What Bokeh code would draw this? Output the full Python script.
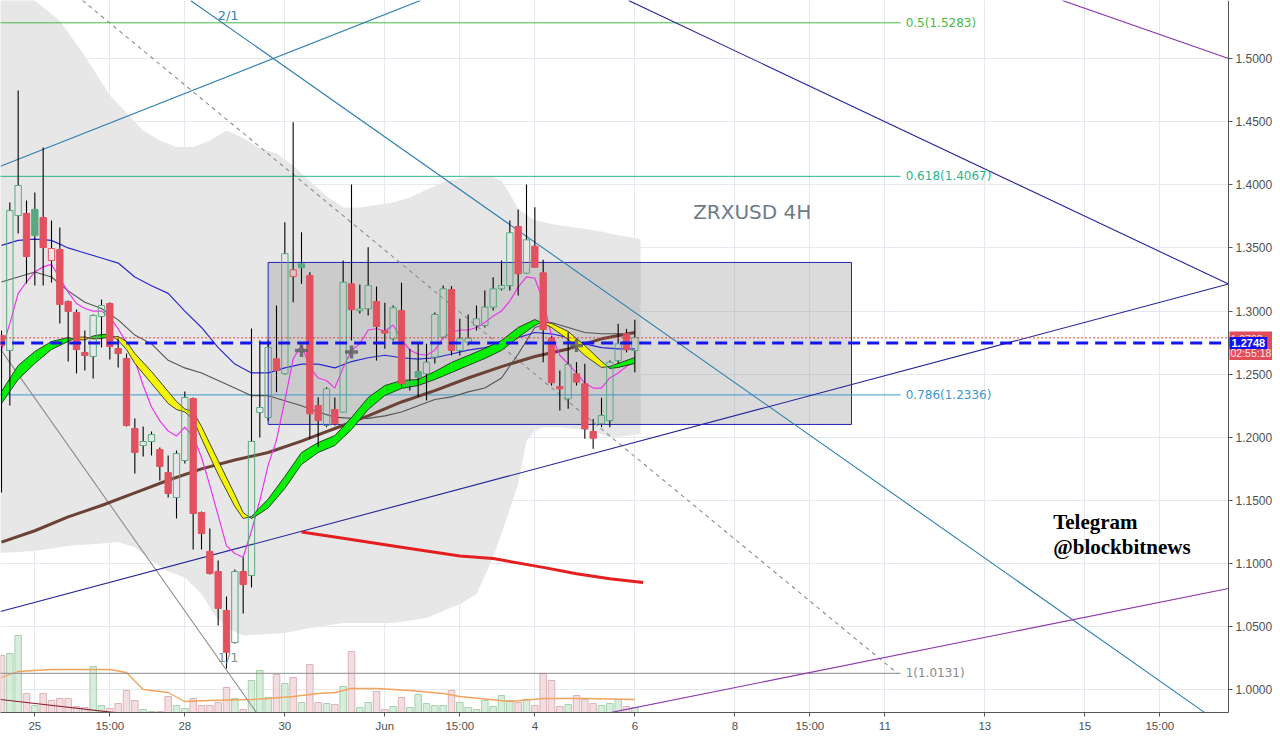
import numpy as np
from bokeh.plotting import figure
from bokeh.models import Range1d, FixedTicker, Label, NumeralTickFormatter
from bokeh.embed import file_html
from bokeh.resources import INLINE
from bokeh.core.properties import value

# ---------------- data (4H candles, bar index k) ----------------
bar = list(range(77))
open_ = [1.2806,1.2688,1.3757,1.3773,1.3805,1.3741,1.3400,1.3488,1.3076,1.2989,
         1.2672,1.2640,1.2957,1.3060,1.2703,1.2624,1.2070,1.1935,1.1967,1.1903,
         1.1721,1.1523,1.1816,1.2307,1.1404,1.1096,1.0937,1.0629,1.0375,1.0937,
         1.0906,1.2197,1.2157,1.2622,1.2503,1.3274,1.3374,1.3282,1.2252,1.2094,
         1.2220,1.2199,1.3216,1.3004,1.3018,1.3076,1.2846,1.2780,1.3004,1.2410,
         1.2521,1.2503,1.2635,1.2793,1.3171,1.2688,1.2753,1.2886,1.2886,1.3031,
         1.3176,1.3202,1.3670,1.3300,1.3514,1.3303,1.2785,1.2402,1.2305,1.2503,
         1.2424,1.2046,1.2107,1.2133,1.2608,1.2820,1.2688]
high = [1.2846,1.3860,1.4747,1.3876,1.3939,1.4295,1.3717,1.3662,1.3084,1.3012,
        1.2846,1.2973,1.3092,1.3068,1.2783,1.2664,1.2149,1.2086,1.2046,1.1919,
        1.1856,1.1896,1.2363,1.2315,1.1412,1.1278,1.1024,1.0740,1.0953,1.1048,
        1.2862,1.2767,1.2767,1.3044,1.3704,1.4496,1.3625,1.3308,1.2318,1.2397,
        1.2315,1.3400,1.4002,1.3210,1.3506,1.3194,1.3065,1.3044,1.3224,1.2701,
        1.2741,1.2741,1.2989,1.3202,1.3197,1.2939,1.2973,1.3044,1.3163,1.3268,
        1.3400,1.3717,1.3805,1.4002,1.3823,1.3406,1.2799,1.2529,1.2833,1.2595,
        1.2582,1.2146,1.2313,1.2608,1.2899,1.2859,1.2931]
low = [1.1563,1.2252,1.3614,1.3218,1.3202,1.3202,1.3226,1.2902,1.2601,1.2505,
       1.2529,1.2466,1.2711,1.2616,1.2553,1.2085,1.1713,1.1848,1.1856,1.1658,
       1.1523,1.1357,1.1793,1.1112,1.1112,1.0914,1.0509,1.0169,1.0368,1.0605,
       1.0811,1.1999,1.2133,1.2357,1.2498,1.3070,1.3216,1.1988,1.1922,1.2080,
       1.2094,1.2197,1.2767,1.2981,1.2965,1.2608,1.2701,1.2767,1.2397,1.2371,
       1.2318,1.2292,1.2585,1.2783,1.2648,1.2648,1.2727,1.2846,1.2870,1.3004,
       1.3163,1.3163,1.3123,1.3295,1.3345,1.2595,1.2410,1.2212,1.2226,1.2410,
       1.1988,1.1909,1.2080,1.2080,1.2582,1.2672,1.2516]
close = [1.2727,1.3796,1.3994,1.3432,1.3598,1.3503,1.3495,1.3052,1.2997,1.2695,
         1.2648,1.2965,1.3044,1.2719,1.2664,1.2093,1.1880,1.1967,1.2022,1.1769,
         1.1555,1.1871,1.2315,1.1397,1.1238,1.0922,1.0645,1.0297,1.0937,1.0834,
         1.1967,1.2236,1.2711,1.2529,1.3454,1.3327,1.3343,1.2186,1.2133,1.2384,
         1.2107,1.3229,1.3010,1.3018,1.3202,1.2878,1.2825,1.3026,1.2424,1.2444,
         1.2476,1.2595,1.2973,1.3176,1.2688,1.2780,1.2785,1.2939,1.3031,1.3176,
         1.3202,1.3620,1.3295,1.3564,1.3347,1.2854,1.2432,1.2384,1.2577,1.2437,
         1.2067,1.1993,1.2173,1.2595,1.2741,1.2693,1.2791]
volume = [285,295,385,95,35,95,60,70,70,30,25,230,35,20,45,110,60,15,5,5,
          80,35,20,70,35,35,50,125,70,15,160,210,75,190,145,175,50,240,50,45,
          40,130,305,25,50,105,15,30,75,25,90,45,35,35,110,50,25,15,60,30,
          85,60,50,65,35,195,160,30,40,85,65,45,35,45,65,30,25]

# moving averages
ma_fast = [1.269,1.290,1.314,1.323,1.331,1.335,1.337,1.326,1.315,1.306,
           1.302,1.300,1.300,1.295,1.286,1.275,1.261,1.241,1.224,1.213,
           1.205,1.201,1.208,1.201,1.184,1.162,1.138,1.114,1.108,1.105,
           1.126,1.150,1.178,1.198,1.229,1.262,1.273,1.255,1.247,1.245,
           1.239,1.255,1.269,1.274,1.285,1.286,1.284,1.289,1.278,1.269,
           1.266,1.265,1.269,1.279,1.283,1.285,1.285,1.287,1.291,1.296,
           1.300,1.308,1.319,1.327,1.326,1.308,1.281,1.265,1.258,1.251,
           1.243,1.239,1.239,1.247,1.251,1.256,1.261]
ma_mid_k = list(range(0, 77, 2))
ma_blue = [1.352,1.356,1.357,1.356,1.350,1.346,1.342,1.338,1.327,1.320,1.314,1.300,1.287,
           1.271,1.258,1.251,1.251,1.255,1.258,1.258,1.255,1.260,1.263,1.265,1.263,1.262,
           1.263,1.266,1.269,1.271,1.274,1.279,1.283,1.282,1.279,1.274,1.271,1.270,1.270]
ma_gray = [1.323,1.327,1.331,1.327,1.316,1.307,1.302,1.293,1.281,1.274,1.261,1.255,1.251,
           1.245,1.239,1.233,1.233,1.229,1.225,1.220,1.216,1.215,1.215,1.217,1.220,1.225,
           1.230,1.232,1.236,1.239,1.247,1.266,1.287,1.291,1.287,1.283,1.282,1.282,1.282]
ma_brown_k = list(range(0, 77, 4))
ma_brown = [1.117,1.126,1.137,1.146,1.156,1.166,1.175,1.182,1.188,1.197,
            1.207,1.217,1.228,1.237,1.247,1.256,1.264,1.270,1.278,1.283]
ma_red_k = [36,40,48,55,59,65,69,73,77]
ma_red = [1.125,1.121,1.113,1.106,1.104,1.097,1.092,1.088,1.085]

# ribbon (fast / slow)
rib_k = [0,2,4,6,8,9,10,11,12,13,14,15,16,18,20,21,22,23,24,26,28,29,30,31,32,34,36,38,
         40,42,44,46,48,50,52,54,56,58,60,62,64,65,66,68,70,72,73,74,76]
rib_fast = [1.2363,1.2569,1.2680,1.2759,1.2791,1.2775,1.2771,1.2803,1.2814,1.2818,
            1.2767,1.2696,1.2585,1.2426,1.2268,1.2220,1.2201,1.2141,1.1990,1.1706,
            1.1452,1.1357,1.1373,1.1444,1.1511,1.1690,1.1880,1.1959,1.2014,1.2157,
            1.2315,1.2410,1.2450,1.2458,1.2521,1.2593,1.2648,1.2704,1.2767,1.2870,
            1.2933,1.2902,1.2870,1.2775,1.2648,1.2553,1.2561,1.2585,1.2632]
rib_slow = [1.2268,1.2458,1.2585,1.2696,1.2759,1.2791,1.2795,1.2779,1.2783,1.2795,
            1.2798,1.2759,1.2664,1.2521,1.2363,1.2284,1.2224,1.2205,1.2086,1.1816,
            1.1547,1.1404,1.1357,1.1397,1.1440,1.1595,1.1785,1.1880,1.1935,1.2062,
            1.2220,1.2331,1.2387,1.2410,1.2458,1.2513,1.2569,1.2624,1.2688,1.2791,
            1.2886,1.2917,1.2902,1.2838,1.2727,1.2601,1.2545,1.2553,1.2585]

# shaded cloud band
cloud_up_k = [-1,4,7,10,13,15,17,19,21,23,25,27,29,31,33,35,37,39,41,43,45,47,49,51,53,
              55,57,59,60,61,62,63,64,66,68,70,72,74,76.7]
cloud_up = [1.56,1.546,1.530,1.502,1.471,1.457,1.443,1.435,1.430,1.430,1.435,1.443,1.437,
            1.429,1.425,1.415,1.403,1.391,1.382,1.382,1.384,1.386,1.390,1.396,1.402,1.405,
            1.407,1.406,1.403,1.393,1.381,1.376,1.372,1.369,1.367,1.365,1.363,1.360,1.357]
cloud_lo_k = [-1,4,8,12,14,16,18,20,22,24,25.5,27,29,34,37,41,47,51,55,57,59,60.7,62,63,
              64,65,67,71,73,75,76.7]
cloud_lo = [1.108,1.110,1.114,1.116,1.117,1.113,1.102,1.094,1.089,1.076,1.060,1.049,1.043,
            1.045,1.049,1.053,1.053,1.057,1.068,1.076,1.105,1.137,1.163,1.197,1.205,1.208,
            1.208,1.205,1.200,1.201,1.203]

vol_ma_k = [0,2,6,8,13,15,17,20,22,25,30,32,35,38,40,42,45,49,53,55,61,65,70,76]
vol_ma = [175,205,215,215,215,200,115,100,55,60,65,70,80,95,100,120,120,110,95,80,55,70,70,65]

cross_k = [36, 42, 69]
cross_p = [1.2688, 1.2675, 1.2727]

# drawings
box_k = [32, 102]
box_p = [1.2102, 1.3385]
fib_level = [0.5, 0.618, 0.786, 1.0]
fib_price = [1.5283, 1.4067, 1.2336, 1.0131]
fib_color = ["#45bb45", "#2bb48c", "#3b97cf", "#8a8a8a"]
fib_end_k = 107.9
hline_price = 1.2748
last_price = 1.2788
trend_lines = [  # (k0, p0, k1, p1, color, dash)
    (-0.12, 1.4147, 50.28, 1.5460, "#2f7fb0", "solid"),
    (22.68, 1.5460, 144.40, 0.9820, "#2f7fb0", "solid"),
    (-0.12, 1.2696, 30.60, 0.9820, "#8c8c8c", "solid"),
    (9.72, 1.5460, 107.5, 1.0131, "#8c8c8c", "4 4"),
    (-0.12, 1.0620, 147.24, 1.3214, "#24249c", "solid"),
    (75.24, 1.5460, 147.24, 1.3214, "#24249c", "solid"),
    (127.3, 1.5460, 147.24, 1.5000, "#8a35b0", "solid"),
    (73.1, 0.9820, 147.24, 1.0803, "#8a35b0", "solid"),
    (-0.12, 0.9924, 13.56, 0.9820, "#8b1e2a", "solid"),
]

xtick_k = [4, 13, 22, 34, 46, 55, 64, 76, 88, 97, 106, 118, 130, 139]
xtick_lab = ["25", "15:00", "28", "30", "Jun", "15:00", "4", "6", "8", "15:00", "11", "13", "15", "15:00"]
ytick = [1.00, 1.05, 1.10, 1.15, 1.20, 1.25, 1.30, 1.35, 1.40, 1.45, 1.50]

K_START, K_EDGE, K_END = -0.12, 147.24, 152.52   # left edge, price-scale edge, canvas edge

# ---------------- figure ----------------
p = figure(frame_width=1272, frame_height=712, output_backend="svg", toolbar_location=None,
           x_range=Range1d(K_START, K_END), y_range=Range1d(0.98206, 1.54596),
           y_axis_location="right", min_border_left=0, min_border_top=0,
           min_border_right=0, min_border_bottom=20)
p.extra_y_ranges = {"vol": Range1d(0, 3560)}
p.outline_line_color = None
p.background_fill_color = "white"
p.border_fill_color = "white"

p.xgrid.ticker = FixedTicker(ticks=xtick_k)
p.ygrid.ticker = FixedTicker(ticks=ytick)
p.xgrid.grid_line_color = "#e3e9ee"
p.ygrid.grid_line_color = "#e3e9ee"

p.xaxis.ticker = FixedTicker(ticks=xtick_k)
p.xaxis.major_label_overrides = {k: l for k, l in zip(xtick_k, xtick_lab)}
p.xaxis.bounds = (K_START, K_EDGE)
p.yaxis.ticker = FixedTicker(ticks=ytick)
p.yaxis.formatter = NumeralTickFormatter(format="0.0000")
p.yaxis.fixed_location = K_EDGE
for ax in (p.xaxis, p.yaxis):
    ax.axis_line_color = "#555555"
    ax.major_tick_line_color = "#555555"
    ax.minor_tick_line_color = None
    ax.major_tick_in = 0
    ax.major_tick_out = 4
    ax.major_label_text_color = "#505050"
    ax.major_label_text_font = "Liberation Sans"
p.yaxis.major_label_text_font_size = "12px"
p.xaxis.major_label_text_font_size = "11.5px"
p.yaxis.major_label_standoff = 3
p.xaxis.major_label_standoff = 3

# cloud
p.patch(cloud_up_k + cloud_lo_k[::-1], cloud_up + cloud_lo[::-1],
        fill_color="#e7e7e7", line_color=None)

# box
p.quad(left=box_k[0], right=box_k[1], bottom=box_p[0], top=box_p[1],
       fill_color="#9a9a9a", fill_alpha=0.36, line_color="#2222b4", line_width=1)

# volume
o = np.array(open_); c = np.array(close); h = np.array(high); l = np.array(low)
prev = np.r_[o[0], c[:-1]]
up_col = c >= prev
hollow = c > o
vol_fill = ["#cfe8d3" if g else "#efd6d8" for g in up_col]
vol_line = ["#a8d2b0" if g else "#dcb4b8" for g in up_col]
p.vbar(x=bar, top=volume, bottom=0, width=0.78, fill_color=vol_fill, fill_alpha=0.8,
       line_color=vol_line, y_range_name="vol")
p.line(vol_ma_k, vol_ma, line_color="#f2a35e", line_width=1.3, y_range_name="vol")

# fib levels
for lv, pr, col in zip(fib_level, fib_price, fib_color):
    p.line([-1, fib_end_k], [pr, pr], line_color=col, line_width=1)
    p.add_layout(Label(x=fib_end_k + 0.6, y=pr, text=f"{lv:g}({pr:.4f})", text_color=col,
                       text_font="DejaVu Sans", text_font_size="12px",
                       text_baseline="middle", text_align="left"))

# trend lines
for k0, p0, k1, p1, col, dash in trend_lines:
    p.line([k0, k1], [p0, p1], line_color=col, line_width=1.1, line_dash=dash)

# moving averages
p.line(ma_brown_k, ma_brown, line_color="#6a4236", line_width=3)
p.line(ma_red_k, ma_red, line_color="#e41f1f", line_width=3)
p.line(ma_mid_k, ma_gray, line_color="#555555", line_width=1.1)
p.line(ma_mid_k, ma_blue, line_color="#2a2ad0", line_width=1.2)
p.line(bar, ma_fast, line_color="#ee33ee", line_width=1.2)

# ribbon fill
xs, ys, cols = [], [], []
for i in range(len(rib_k) - 1):
    x0, x1 = rib_k[i], rib_k[i + 1]
    f0, f1 = rib_fast[i], rib_fast[i + 1]
    s0, s1 = rib_slow[i], rib_slow[i + 1]
    d0, d1 = f0 - s0, f1 - s1
    if d0 * d1 >= 0:
        xs.append([x0, x1, x1, x0]); ys.append([f0, f1, s1, s0])
        cols.append("#00f000" if (d0 + d1) > 0 else "#f5f500")
    else:
        t = d0 / (d0 - d1)
        xc = x0 + t * (x1 - x0); yc = f0 + t * (f1 - f0)
        xs.append([x0, xc, x0]); ys.append([f0, yc, s0])
        cols.append("#00f000" if d0 > 0 else "#f5f500")
        xs.append([xc, x1, x1]); ys.append([yc, f1, s1])
        cols.append("#00f000" if d1 > 0 else "#f5f500")
p.patches(xs, ys, fill_color=cols, line_color=None)
p.line(rib_k, rib_fast, line_color="#1a1a1a", line_width=0.8)
p.line(rib_k, rib_slow, line_color="#1a1a1a", line_width=0.8)

# candles
top = np.maximum(o, c); bot = np.minimum(o, c)
bot_draw = np.minimum(bot, top - 0.0016)
ccol = np.where(up_col, "#58a981", "#e2515f")
p.segment(x0=bar, y0=top, x1=bar, y1=h, line_color="black", line_width=1.1)
p.segment(x0=bar, y0=bot_draw, x1=bar, y1=l, line_color="black", line_width=1.1)
p.vbar(x=bar, top=top, bottom=bot_draw, width=0.76, fill_color=list(ccol),
       fill_alpha=[0.0 if hh else 1.0 for hh in hollow], line_color=list(ccol), line_width=1)

# price lines
p.line([-1, K_EDGE], [last_price, last_price], line_color="#e0404f", line_width=1, line_dash="2 2")
p.line([-1, K_EDGE], [hline_price, hline_price], line_color="#1414f0", line_width=3, line_dash="12 7")

# crosses
p.scatter(cross_k, cross_p, marker="cross", size=13, line_width=3.5, line_color="#5f5f5f", alpha=0.85)

# price-scale strip background (keeps grid out of the scale area)
p.quad(left=K_EDGE, right=K_END + 1, bottom=0.9, top=1.6, fill_color="white", line_color=None)

# texts
p.add_layout(Label(x=27.2, y=1.5341, text="2/1", text_color="#3583b8", text_font="DejaVu Sans",
                   text_font_size="13px", text_align="center", text_baseline="middle"))
p.add_layout(Label(x=27.2, y=1.0256, text="1/1", text_color="#8c8c8c", text_font="DejaVu Sans",
                   text_font_size="13px", text_align="center", text_baseline="middle"))
p.add_layout(Label(x=83.0, y=1.3788, text="ZRXUSD 4H", text_color="#6c7b88", text_font="DejaVu Sans",
                   text_font_size="20px", text_align="left", text_baseline="middle"))
p.add_layout(Label(x=126.2, y=1.1333, text="Telegram", text_color="black", text_font="Liberation Serif",
                   text_font_style="bold", text_font_size="21px", text_align="left", text_baseline="middle"))
p.add_layout(Label(x=126.2, y=1.1135, text="@blockbitnews", text_color="black", text_font="Liberation Serif",
                   text_font_style="bold", text_font_size="21px", text_align="left", text_baseline="middle"))

# axis price tags
p.add_layout(Label(x=K_EDGE, y=1.2725, x_offset=1, text=f"{last_price:.4f}\n02:55:18", text_color="#ffe6e8",
                   text_font="Liberation Sans", text_font_size="10.5px", text_align="left",
                   text_baseline="middle", background_fill_color="#e24d5b", padding=1))
p.add_layout(Label(x=K_EDGE, y=hline_price, x_offset=1, text=f"{hline_price:.4f}", text_color="white",
                   text_font="Liberation Sans", text_font_style="bold", text_font_size="11px",
                   text_align="left", text_baseline="middle", background_fill_color="#1010ee", padding=2))

open("out.html", "w").write(file_html(p, INLINE))
